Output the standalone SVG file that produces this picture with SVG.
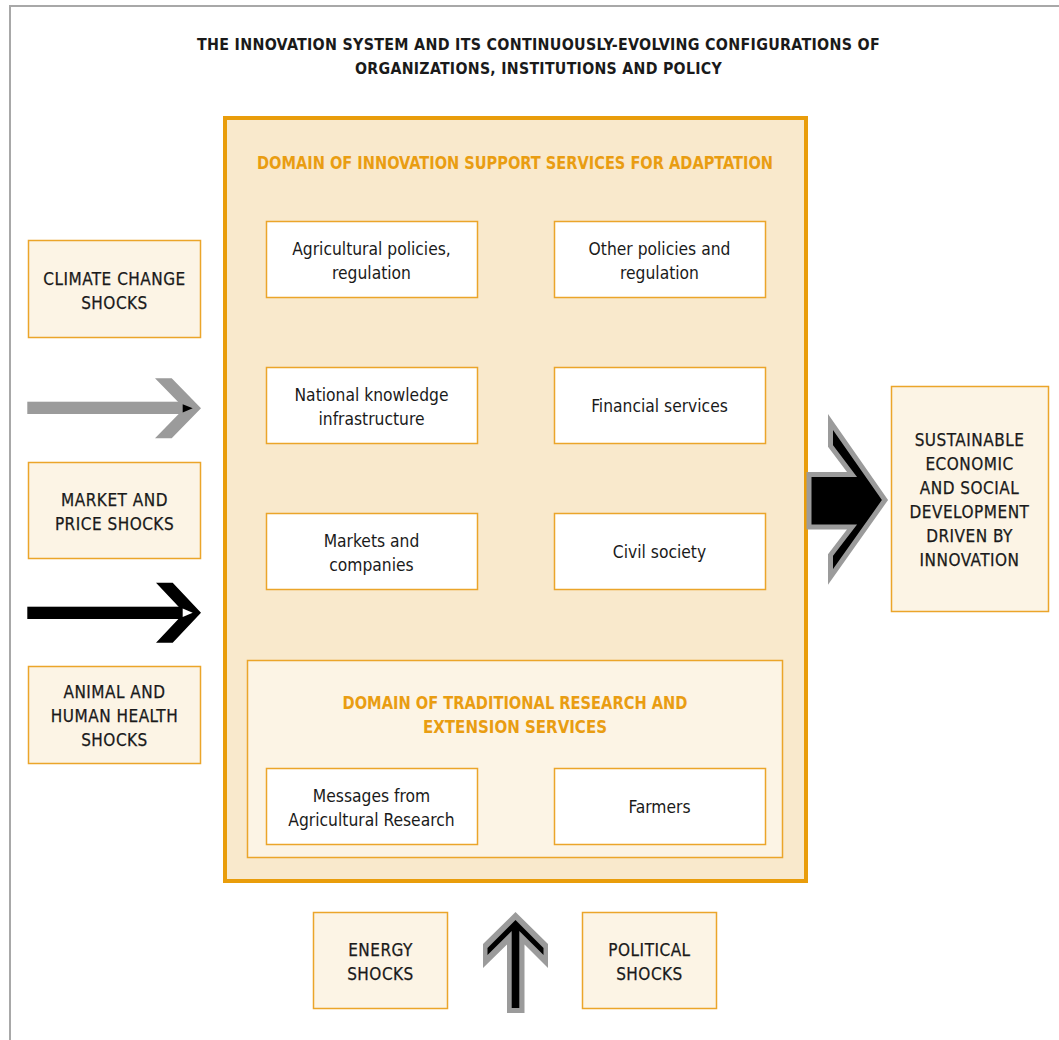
<svg xmlns="http://www.w3.org/2000/svg" width="1059" height="1040" viewBox="0 0 1059 1040">
<style>
.t{font-family:"DejaVu Sans Condensed","DejaVu Sans",sans-serif;font-stretch:condensed;text-anchor:middle;fill:#1a1a1a}
.h{font-weight:bold;font-size:16px;letter-spacing:0.3px}
.o{fill:#E99D12;font-weight:bold;font-size:17.5px}
.b{font-size:17.3px}
.cap{font-size:17px;letter-spacing:0.5px;stroke:#1a1a1a;stroke-width:0.25px}
.lb{fill:#FCF4E5;stroke:#EBA52A;stroke-width:1.5}
.wb{fill:#FFFFFF;stroke:#EBA52A;stroke-width:1.5}
</style>
<rect x="10" y="6" width="1070" height="1060" fill="#FFFFFF" stroke="#A8A8A8" stroke-width="2"/>
<g id="title">
<text class="t h" x="538.5" y="50" textLength="683" lengthAdjust="spacingAndGlyphs">THE INNOVATION SYSTEM AND ITS CONTINUOUSLY-EVOLVING CONFIGURATIONS OF</text>
<text class="t h" x="538.5" y="74" textLength="367" lengthAdjust="spacingAndGlyphs">ORGANIZATIONS, INSTITUTIONS AND POLICY</text>
</g>
<g id="domain-support">
<rect x="225" y="118" width="581" height="763" fill="#F9E9CC" stroke="#E99D0B" stroke-width="4"/>
<text class="t o" x="515" y="169" textLength="516" lengthAdjust="spacingAndGlyphs">DOMAIN OF INNOVATION SUPPORT SERVICES FOR ADAPTATION</text>
</g>
<g id="agri-policies"><rect class="wb" x="266.5" y="221.5" width="211" height="76"/>
<text class="t b" x="371.5" y="255">Agricultural policies,</text><text class="t b" x="371.5" y="279">regulation</text></g>
<g id="other-policies"><rect class="wb" x="554.5" y="221.5" width="211" height="76"/>
<text class="t b" x="659.5" y="255">Other policies and</text><text class="t b" x="659.5" y="279">regulation</text></g>
<g id="knowledge"><rect class="wb" x="266.5" y="367.5" width="211" height="76"/>
<text class="t b" x="371.5" y="401">National knowledge</text><text class="t b" x="371.5" y="425">infrastructure</text></g>
<g id="financial"><rect class="wb" x="554.5" y="367.5" width="211" height="76"/>
<text class="t b" x="659.5" y="412">Financial services</text></g>
<g id="markets"><rect class="wb" x="266.5" y="513.5" width="211" height="76"/>
<text class="t b" x="371.5" y="547">Markets and</text><text class="t b" x="371.5" y="571">companies</text></g>
<g id="civil"><rect class="wb" x="554.5" y="513.5" width="211" height="76"/>
<text class="t b" x="659.5" y="558">Civil society</text></g>
<g id="domain-traditional">
<rect class="lb" x="247.5" y="660.5" width="535" height="197"/>
<text class="t o" x="515" y="709" textLength="345" lengthAdjust="spacingAndGlyphs">DOMAIN OF TRADITIONAL RESEARCH AND</text>
<text class="t o" x="515" y="733" textLength="184" lengthAdjust="spacingAndGlyphs">EXTENSION SERVICES</text>
</g>
<g id="messages"><rect class="wb" x="266.5" y="768.5" width="211" height="76"/>
<text class="t b" x="371.5" y="802">Messages from</text><text class="t b" x="371.5" y="826">Agricultural Research</text></g>
<g id="farmers"><rect class="wb" x="554.5" y="768.5" width="211" height="76"/>
<text class="t b" x="659.5" y="813">Farmers</text></g>
<g id="climate"><rect class="lb" x="28.5" y="240.5" width="172" height="97"/>
<text class="t cap" x="114.5" y="285">CLIMATE CHANGE</text><text class="t cap" x="114.5" y="309">SHOCKS</text></g>
<g id="market-price"><rect class="lb" x="28.5" y="462.5" width="172" height="96"/>
<text class="t cap" x="114.5" y="506">MARKET AND</text><text class="t cap" x="114.5" y="530">PRICE SHOCKS</text></g>
<g id="health"><rect class="lb" x="28.5" y="666.5" width="172" height="97"/>
<text class="t cap" x="114.5" y="698">ANIMAL AND</text><text class="t cap" x="114.5" y="722">HUMAN HEALTH</text><text class="t cap" x="114.5" y="746">SHOCKS</text></g>
<g id="sustainable"><rect class="lb" x="891.5" y="386.5" width="157" height="225"/>
<text class="t cap" x="969.5" y="446">SUSTAINABLE</text><text class="t cap" x="969.5" y="470">ECONOMIC</text><text class="t cap" x="969.5" y="494">AND SOCIAL</text><text class="t cap" x="969.5" y="518">DEVELOPMENT</text><text class="t cap" x="969.5" y="542">DRIVEN BY</text><text class="t cap" x="969.5" y="566">INNOVATION</text></g>
<g id="energy"><rect class="lb" x="313.5" y="912.5" width="134" height="96"/>
<text class="t cap" x="380.5" y="956">ENERGY</text><text class="t cap" x="380.5" y="980">SHOCKS</text></g>
<g id="political"><rect class="lb" x="582.5" y="912.5" width="134" height="96"/>
<text class="t cap" x="649.5" y="956">POLITICAL</text><text class="t cap" x="649.5" y="980">SHOCKS</text></g>
<g id="connectors">
<rect x="27.3" y="401.7" width="156" height="12.3" fill="#9B9B9B"/>
<polygon points="155,378.3 171.7,378.3 201,408.3 171.7,438.3 155,438.3 184.3,408.3" fill="#9B9B9B"/>
<polygon points="182.7,404.3 192.7,408.3 182.7,412.5" fill="#000000"/>
<rect x="27.3" y="606.7" width="156" height="12.3" fill="#000000"/>
<polygon points="156,582.7 172.7,582.7 201,612.7 172.7,642.7 156,642.7 184.3,612.7" fill="#000000"/>
<polygon points="182.7,608.5 192.7,612.7 182.7,617" fill="#FFFFFF"/>
<polygon points="809,474.5 852,474.5 830.5,446 830.5,422 885,500 830.5,577 830.5,555 852,527 809,527" fill="#000000" stroke="#9B9B9B" stroke-width="5" stroke-linejoin="miter"/>
<polygon points="515.5,912 548,944 548,968 524.5,944.5 524.5,1013 507,1013 507,944.5 483,968 483,944" fill="#9B9B9B"/>
<polygon points="515.5,920 543.5,948 543.5,955 519.3,931 519.3,1008 511.7,1008 511.7,931 487.5,955 487.5,948" fill="#000000"/>
</g>
</svg>
